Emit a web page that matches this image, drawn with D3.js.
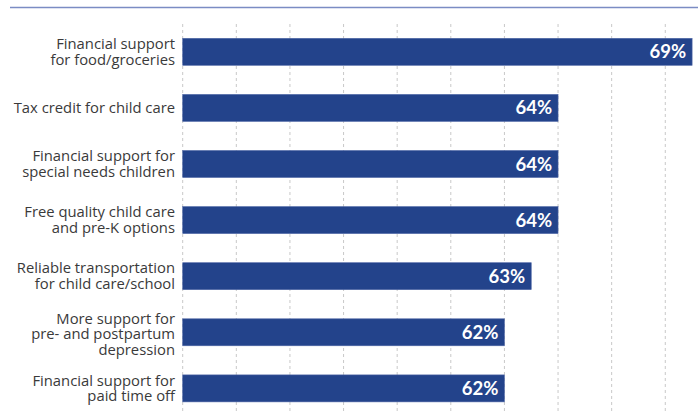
<!DOCTYPE html>
<html><head><meta charset="utf-8">
<script src="https://cdn.jsdelivr.net/npm/d3@7"></script>
<style>body{margin:0;background:#fff}svg{display:block}</style>
</head><body>
<script>
const categories = [
  ["Financial support", "for food/groceries"],
  ["Tax credit for child care"],
  ["Financial support for", "special needs children"],
  ["Free quality child care", "and pre-K options"],
  ["Reliable transportation", "for child care/school"],
  ["More support for", "pre- and postpartum", "depression"],
  ["Financial support for", "paid time off"]
];
const values = [69, 64, 64, 64, 63, 62, 62];
const gridTicks = [50, 52, 54, 56, 58, 60, 62, 64, 66, 68];

const W = 698, H = 411;
const svg = d3.select("body").append("svg").attr("width", W).attr("height", H);

const x = d3.scaleLinear().domain([50, 69]).range([182.7, 692.1]);
const y = d3.scaleBand().domain(d3.range(categories.length))
  .range([9.2, 431]).padding(0.519);

// top rule
svg.append("line").attr("x1", 10).attr("x2", W).attr("y1", 7.5).attr("y2", 7.5)
  .attr("stroke", "#7b8cc4").attr("stroke-width", 1.5);

// grid
svg.append("g").selectAll("line").data(gridTicks).join("line")
  .attr("x1", d => x(d)).attr("x2", d => x(d))
  .attr("y1", 24).attr("y2", H)
  .attr("stroke", "#c8c8c8").attr("stroke-width", 1).attr("stroke-dasharray", "3,3");

// bars
svg.append("g").selectAll("rect").data(values).join("rect")
  .attr("x", x(50)).attr("y", (d, i) => y(i))
  .attr("width", d => x(d) - x(50)).attr("height", y.bandwidth())
  .attr("fill", "#23438b").attr("stroke", "#4f67a6").attr("stroke-width", 0.6);

// value labels
svg.append("g").selectAll("text").data(values).join("text")
  .attr("x", d => x(d) - 6).attr("y", (d, i) => y(i) + y.bandwidth() / 2 + 6.5)
  .attr("text-anchor", "end").attr("fill", "#fff")
  .attr("font-family", "Lato, 'Open Sans', sans-serif").attr("font-weight", 700)
  .attr("font-size", 18.5).text(d => d + "%");

// category labels
const lh = 15.7;
const cg = svg.append("g").attr("font-family", "'Open Sans', 'Noto Sans', sans-serif")
  .attr("font-size", 14.8).attr("fill", "#3a3a3a").attr("text-anchor", "end");
categories.forEach((lines, i) => {
  const cy = y(i) + y.bandwidth() / 2;
  const t = cg.append("text").attr("x", 175);
  lines.forEach((ln, j) => {
    t.append("tspan").attr("x", 175)
      .attr("y", cy + 5 + (j - (lines.length - 1) / 2) * lh + (lines.length === 3 ? 2 : 0))
      .text(ln);
  });
});
</script>
</body></html>
